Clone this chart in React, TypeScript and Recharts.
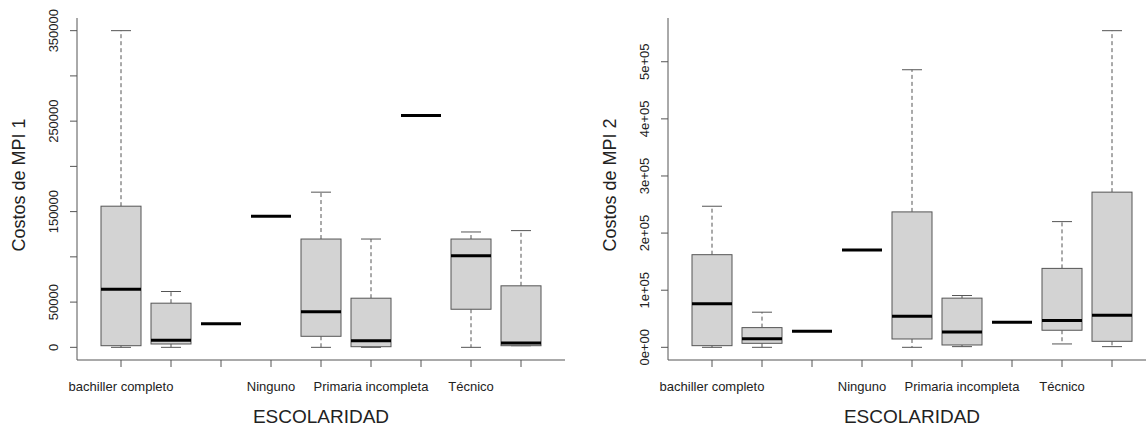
import { ComposedChart, Bar, XAxis, YAxis, Label } from 'recharts';

// category order as in the plot (R only printed every other label; unread ones left blank)
const categories = ['bachiller completo', '', '', 'Ninguno', '', 'Primaria incompleta', '', 'Técnico', ''];

// Costos de MPI 1 - five number summaries per category
const mpi1Min = [0, 0, 26200, 144900, 0, 0, 256100, 0, 1800];
const mpi1Q1 = [1800, 3700, 26200, 144900, 12200, 700, 256100, 42100, 1800];
const mpi1Med = [64300, 7800, 26200, 144900, 39200, 7400, 256100, 101300, 4800];
const mpi1Q3 = [156000, 48800, 26200, 144900, 119700, 54300, 256100, 119700, 68000];
const mpi1Max = [350000, 61700, 26200, 144900, 171500, 119700, 256100, 127500, 129000];
const mpi1Ticks = [0, 50000, 100000, 150000, 200000, 250000, 300000, 350000];
const mpi1TickLabels = ['0', '50000', '', '150000', '', '250000', '', '350000'];

// Costos de MPI 2
const mpi2Min = [0, 0, 28100, 170400, 0, 1200, 43900, 5900, 1200];
const mpi2Q1 = [2900, 7000, 28100, 170400, 14600, 4100, 43900, 29900, 10500];
const mpi2Med = [76100, 15200, 28100, 170400, 54400, 26900, 43900, 46800, 56200];
const mpi2Q3 = [162200, 34500, 28100, 170400, 237100, 86100, 43900, 138200, 271700];
const mpi2Max = [247000, 61500, 28100, 170400, 486000, 90700, 43900, 220100, 554400];
const mpi2Ticks = [0, 100000, 200000, 300000, 400000, 500000];
const mpi2TickLabels = ['0e+00', '1e+05', '2e+05', '3e+05', '4e+05', '5e+05'];

const FONT = '"Liberation Sans", Arial, sans-serif';
const LINE = '#555';
const TEXT = '#222';

type Row = { key: string; lo: number; q1: number; med: number; q3: number; hi: number };

const buildRows = (mn: number[], q1: number[], med: number[], q3: number[], mx: number[]): Row[] =>
  categories.map((_, i) => ({ key: String(i), lo: mn[i], q1: q1[i], med: med[i], q3: q3[i], hi: mx[i] }));

const BoxShape = (props: any) => {
  const { x, y, width, height, payload } = props;
  const top = Math.min(y, y + height);
  const bot = Math.max(y, y + height);
  const cx = x + width / 2;
  const { lo, q1, med, q3, hi } = payload as Row;

  if (hi === lo) {
    return <line x1={x} x2={x + width} y1={top} y2={top} stroke="#000" strokeWidth={3} />;
  }
  const ppu = (bot - top) / (hi - lo);
  const pos = (v: number) => bot - (v - lo) * ppu;
  const cap = width / 4;

  return (
    <g>
      <line x1={cx} x2={cx} y1={pos(q3)} y2={pos(hi)} stroke={LINE} strokeDasharray="4 3" />
      <line x1={cx} x2={cx} y1={pos(q1)} y2={pos(lo)} stroke={LINE} strokeDasharray="4 3" />
      <line x1={cx - cap} x2={cx + cap} y1={pos(hi)} y2={pos(hi)} stroke={LINE} />
      <line x1={cx - cap} x2={cx + cap} y1={pos(lo)} y2={pos(lo)} stroke={LINE} />
      <rect x={x} y={pos(q3)} width={width} height={pos(q1) - pos(q3)} fill="#d3d3d3" stroke={LINE} />
      <line x1={x} x2={x + width} y1={pos(med)} y2={pos(med)} stroke="#000" strokeWidth={3} />
    </g>
  );
};

interface PanelProps {
  rows: Row[];
  domain: [number, number];
  ticks: number[];
  tickLabels: string[];
  yTitle: string;
}

const BoxPanel = ({ rows, domain, ticks, tickLabels, yTitle }: PanelProps) => {
  const XTick = (p: any) => (
    <text x={p.x} y={p.y + 17} textAnchor="middle" dominantBaseline="central" fontSize={13} fontFamily={FONT} fill={TEXT}>
      {categories[Number(p.payload.value)]}
    </text>
  );
  const YTick = (p: any) => {
    const cx = p.x - 14;
    const label = tickLabels[ticks.indexOf(p.payload.value)];
    return (
      <text x={cx} y={p.y} transform={`rotate(-90, ${cx}, ${p.y})`} textAnchor="middle" dominantBaseline="central"
        fontSize={13} fontFamily={FONT} fill={TEXT}>
        {label}
      </text>
    );
  };

  return (
    <ComposedChart width={573} height={432} data={rows} margin={{ top: 18, right: 8, bottom: 0, left: 0 }}>
      <XAxis dataKey="key" type="category" interval={0} padding={{ left: 19, right: 19 }} height={72}
        tickSize={7} tickLine={{ stroke: LINE }} axisLine={{ stroke: LINE }} tick={<XTick />}>
        <Label content={({ viewBox }: any) => viewBox ? (
          <text x={viewBox.x + viewBox.width / 2} y={viewBox.y + 56} textAnchor="middle" dominantBaseline="central"
            fontSize={19} fontFamily={FONT} fill={TEXT}>ESCOLARIDAD</text>
        ) : null} />
      </XAxis>
      <XAxis xAxisId="top" dataKey="key" orientation="top" height={0} tick={false} tickLine={false}
        axisLine={{ stroke: LINE }} />
      <YAxis type="number" domain={domain} ticks={ticks} interval={0} width={77} allowDataOverflow
        tickSize={7} tickLine={{ stroke: LINE }} axisLine={{ stroke: LINE }} tick={<YTick />}>
        <Label content={({ viewBox }: any) => {
          if (!viewBox) return null;
          const cx = viewBox.x + 19;
          const cy = viewBox.y + viewBox.height / 2 - 4;
          return (
            <text x={cx} y={cy} transform={`rotate(-90, ${cx}, ${cy})`} textAnchor="middle" dominantBaseline="central"
              fontSize={18} fontFamily={FONT} fill={TEXT}>{yTitle}</text>
          );
        }} />
      </YAxis>
      <YAxis yAxisId="right" orientation="right" type="number" domain={[0, 1]} width={0} tick={false}
        tickLine={false} axisLine={{ stroke: LINE }} />
      <Bar dataKey={(d: Row) => [d.lo, d.hi]} barSize={40} shape={BoxShape} isAnimationActive={false} />
    </ComposedChart>
  );
};

export default function App() {
  const rows1 = buildRows(mpi1Min, mpi1Q1, mpi1Med, mpi1Q3, mpi1Max);
  const rows2 = buildRows(mpi2Min, mpi2Q1, mpi2Med, mpi2Q3, mpi2Max);

  return (
    <div style={{ position: 'absolute', left: 0, top: 0, width: 1146, height: 432, overflow: 'hidden', background: '#fff' }}>
      <div style={{ position: 'absolute', left: 0, top: 0 }}>
        <BoxPanel rows={rows1} domain={[-14000, 364000]} ticks={mpi1Ticks} tickLabels={mpi1TickLabels} yTitle="Costos de MPI 1" />
      </div>
      <div style={{ position: 'absolute', left: 591, top: 0 }}>
        <BoxPanel rows={rows2} domain={[-22200, 576600]} ticks={mpi2Ticks} tickLabels={mpi2TickLabels} yTitle="Costos de MPI 2" />
      </div>
    </div>
  );
}
